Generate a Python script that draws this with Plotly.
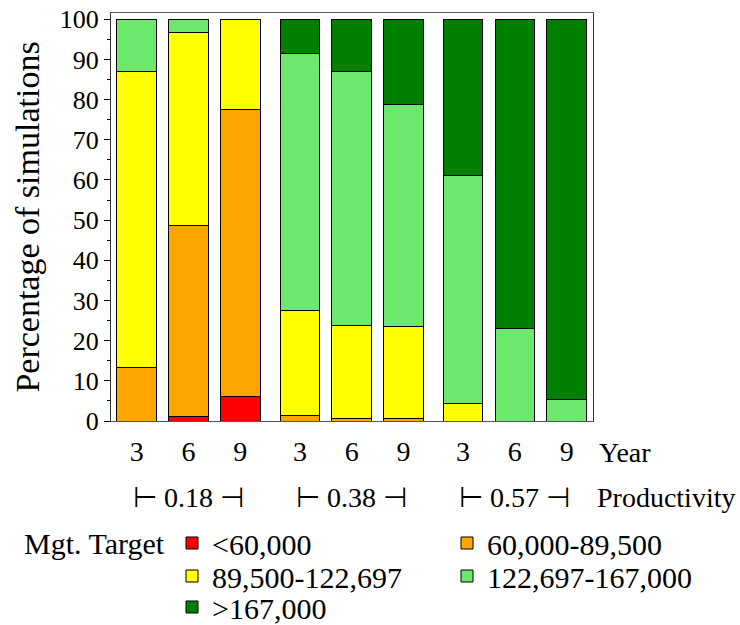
import plotly.graph_objects as go

# ---- data (percent of simulations) ----
years = ["3", "6", "9"]
productivity = ["0.18", "0.38", "0.57"]
target_labels = ["<60,000", "60,000-89,500", "89,500-122,697", "122,697-167,000", ">167,000"]
below_60000 = [0, 1.2, 6.2, 0, 0, 0, 0, 0, 0]
t60000_89500 = [13.4, 47.4, 71.3, 1.4, 0.6, 0.5, 0, 0, 0]
t89500_122697 = [73.6, 48.2, 22.5, 26.2, 23.3, 23.1, 4.3, 0, 0]
t122697_167000 = [13.0, 3.2, 0, 63.9, 63.2, 55.1, 56.7, 23.0, 5.3]
above_167000 = [0, 0, 0, 8.5, 12.9, 21.3, 39.0, 77.0, 94.7]

series = [below_60000, t60000_89500, t89500_122697, t122697_167000, above_167000]
colors = ["#FF0000", "#FFA500", "#FFFF00", "#6CE96C", "#008000"]

GROUP_STEP = 3.15
xpos = [g * GROUP_STEP + i for g in range(len(productivity)) for i in range(len(years))]
xtext = [y for _ in productivity for y in years]

FONT = "Liberation Serif, Times New Roman, serif"

# plot-area geometry (pixels) for placing side labels / legend entries
L, R, T, B = 111, 593, 13, 421
PW, PH = R - L, B - T


def px_x(x):
    return (x - L) / PW


def px_y(y):
    return (B - y) / PH


# legend entry positions: (item origin x, row center y)
legend_slots = [(172, 543), (447, 543), (172, 576), (447, 576), (172, 607)]
LEG_FONT = 30
item_h = LEG_FONT * 1.3 + 3

fig = go.Figure()
legend_layouts = {}
for k, (name, vals, col) in enumerate(zip(target_labels, series, colors)):
    lname = "legend" if k == 0 else f"legend{k + 1}"
    fig.add_trace(go.Bar(
        x=xpos, y=[v if v else None for v in vals], name=name,
        width=0.764, legend=lname,
        marker=dict(color=col, line=dict(color="black", width=1)),
    ))
    sx, sy = legend_slots[k]
    legend_layouts[lname] = dict(
        orientation="h",
        x=px_x(sx), xanchor="left",
        y=px_y(sy - item_h / 2 - 5), yanchor="top",
        font=dict(size=LEG_FONT, family=FONT, color="black"),
        bgcolor="rgba(0,0,0,0)", borderwidth=0,
    )

fig.update_layout(
    width=740, height=625,
    barmode="stack",
    plot_bgcolor="white", paper_bgcolor="white",
    font=dict(family=FONT, size=28, color="black"),
    margin=dict(l=L, r=740 - R, t=T, b=625 - B, autoexpand=False),
    showlegend=True,
    **legend_layouts,
)

fig.update_xaxes(
    range=[-0.497, 8.3 + 0.509],
    tickmode="array", tickvals=xpos, ticktext=xtext,
    ticks="", tickfont=dict(size=28),
    ticklabelstandoff=5,
    showline=True, linecolor="#555", linewidth=1, mirror=True,
    showgrid=False, zeroline=False,
)
fig.update_yaxes(
    range=[0, 101.57],
    tickmode="linear", tick0=0, dtick=10,
    ticks="outside", ticklen=6, tickcolor="black",
    tickfont=dict(size=26),
    minor=dict(ticks="outside", ticklen=3, dtick=5, tickcolor="black", showgrid=False),
    showline=True, linecolor="#333", linewidth=1, mirror=True,
    showgrid=False, zeroline=False,
    title=dict(text="Percentage of simulations", font=dict(size=34), standoff=9),
)

# axis-side labels
fig.add_annotation(text="Year", xref="paper", yref="paper",
                   x=px_x(597), y=px_y(452),
                   xanchor="left", yanchor="middle", showarrow=False,
                   font=dict(size=28))
fig.add_annotation(text="Productivity", xref="paper", yref="paper",
                   x=px_x(595), y=px_y(497),
                   xanchor="left", yanchor="middle", showarrow=False,
                   font=dict(size=28))
for g, p in enumerate(productivity):
    fig.add_annotation(text="\u22A2 " + p + " \u22A3", xref="x", yref="paper",
                       x=g * GROUP_STEP + 1, y=px_y(497),
                       xanchor="center", yanchor="middle", showarrow=False,
                       font=dict(size=28))
fig.add_annotation(text="Mgt. Target", xref="paper", yref="paper",
                   x=px_x(22), y=px_y(543),
                   xanchor="left", yanchor="middle", showarrow=False,
                   font=dict(size=LEG_FONT))

fig.write_html("out.html", config={"displayModeBar": False},
               post_script="document.body.style.margin='0px';")
